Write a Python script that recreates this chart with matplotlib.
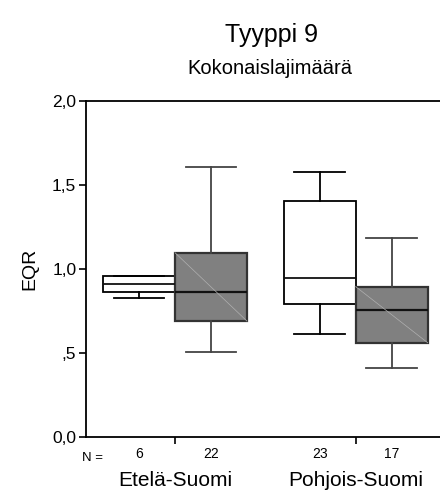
import numpy as np
import matplotlib.pyplot as plt

plt.rcParams['font.family'] = ['Liberation Sans', 'DejaVu Sans']

# === Data ===
groups = ['Etelä-Suomi', 'Pohjois-Suomi']
n_labels = ['6', '22', '23', '17']
positions = [1.0, 2.0, 3.51, 4.51]
q1 = [0.863, 0.69, 0.79, 0.561]
med = [0.912, 0.863, 0.945, 0.758]
q3 = [0.96, 1.097, 1.407, 0.895]
whislo = [0.83, 0.504, 0.611, 0.409]
whishi = [0.96, 1.605, 1.579, 1.186]
shaded = [False, True, False, True]

yticks = [0.0, 0.5, 1.0, 1.5, 2.0]
ytick_labels = ['0,0', ',5', '1,0', '1,5', '2,0']

fig = plt.figure(figsize=(4.4, 4.96), dpi=100)
ax = fig.add_axes([86 / 440, 59 / 496, 354 / 440, 336 / 496])

# boxes
for i in range(len(positions)):
    st = [dict(med=med[i], q1=q1[i], q3=q3[i], whislo=whislo[i], whishi=whishi[i], fliers=[])]
    if shaded[i]:
        ec = '#333333'
        wc = '#444444'
        fc = '#808080'
        lw = 1.6
    else:
        ec = 'black'
        wc = 'black'
        fc = 'white'
        lw = 1.3
    ax.bxp(st, positions=[positions[i]], widths=1.0, patch_artist=True,
           showfliers=False,
           boxprops=dict(facecolor=fc, edgecolor=ec, linewidth=lw),
           medianprops=dict(color='#111111', linewidth=lw),
           whiskerprops=dict(color=wc, linewidth=1.3),
           capprops=dict(color=wc, linewidth=1.3),
           capwidths=0.7)
    if shaded[i]:
        # SPSS-tyylinen vaalea lävistäjä
        ax.plot([positions[i] - 0.5, positions[i] + 0.5], [q3[i], q1[i]],
                color='#b0b0b0', linewidth=0.5, zorder=5)

ax.set_xlim(0.264, 5.181)
ax.set_ylim(0, 2.0)

ax.spines['right'].set_visible(False)
for s in ['left', 'top', 'bottom']:
    ax.spines[s].set_linewidth(1.3)

ax.set_yticks(yticks)
ax.set_yticklabels(ytick_labels, fontsize=12.5)
ax.tick_params(axis='y', length=5, width=1.2, pad=2)

# ryhmien rajat tikkeinä, N-arvot pienempinä
ax.set_xticks([(positions[0] + positions[1]) / 2, (positions[2] + positions[3]) / 2])
ax.set_xticklabels([])
ax.tick_params(axis='x', which='major', length=5, width=1.2, direction='out')
ax.set_xticks(positions, minor=True)
ax.set_xticklabels(n_labels, minor=True, fontsize=10)
ax.tick_params(axis='x', which='minor', length=0, pad=7)
ax.text(0.36, -0.045, 'N =', transform=ax.get_xaxis_transform(),
        ha='center', va='top', fontsize=9.5)

for g, c in zip(groups, [(positions[0] + positions[1]) / 2, (positions[2] + positions[3]) / 2]):
    ax.text(c, -0.1, g, transform=ax.get_xaxis_transform(),
            ha='center', va='top', fontsize=15)

ax.set_ylabel('EQR', fontsize=14, labelpad=10)

fig.text(271 / 440, 1 - 35 / 496, 'Tyyppi 9', ha='center', va='center', fontsize=18)
fig.text(270 / 440, 1 - 69 / 496, 'Kokonaislajimäärä', ha='center', va='center', fontsize=14.5)

plt.savefig('out.png', dpi=100)
